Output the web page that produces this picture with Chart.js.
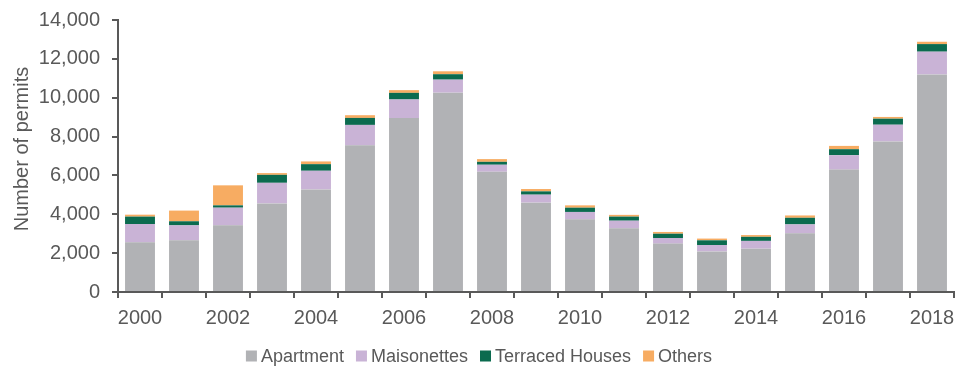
<!DOCTYPE html>
<html>
<head>
<meta charset="utf-8">
<script src="https://cdn.jsdelivr.net/npm/chart.js@4.4.1/dist/chart.umd.min.js"></script>
<style>
  html, body { margin: 0; padding: 0; background: #fff; }
  #wrap { width: 958px; height: 371px; }
</style>
</head>
<body>
<div id="wrap"><canvas id="permitsChart"></canvas></div>
<script>
// Building permits by dwelling type, 2000-2018
const years = ['2000', '2001', '2002', '2003', '2004', '2005', '2006', '2007', '2008', '2009',
               '2010', '2011', '2012', '2013', '2014', '2015', '2016', '2017', '2018'];
const apartment = [2560, 2660, 3430, 4560, 5280, 7550, 8950, 10260, 6190, 4600,
                   3740, 3280, 2490, 2090, 2230, 3020, 6300, 7750, 11200];
const maisonettes = [940, 770, 910, 1060, 960, 1050, 960, 670, 360, 410,
                     380, 390, 290, 330, 400, 460, 740, 860, 1170];
const terraced = [380, 210, 120, 410, 340, 360, 340, 280, 150, 170,
                  220, 210, 220, 240, 210, 340, 310, 310, 390];
const others = [100, 550, 1030, 90, 140, 140, 140, 150, 140, 120,
                120, 90, 90, 90, 90, 120, 170, 90, 120];
const yTicks = [0, 2000, 4000, 6000, 8000, 10000, 12000, 14000];
const yTitle = 'Number of permits';

const axisColor = '#595959';
const textColor = '#595959';
const fontFamily = "'Liberation Sans', Arial, sans-serif";

function series(label, data, color) {
    return {
        label: label,
        data: data,
        backgroundColor: color,
        borderWidth: 0,
        barPercentage: 0.68,
        categoryPercentage: 1.0
    };
}

// compact legend row under the plot plus the rotated y title
const extras = {
    id: 'extras',
    afterDraw(chart) {
        const c = chart.ctx;
        const box = 11, gap = 4, spacing = 12;
        c.save();
        c.font = '18px ' + fontFamily;
        c.textBaseline = 'middle';
        const items = chart.data.datasets.map(ds => ({
            text: ds.label, color: ds.backgroundColor, w: c.measureText(ds.label).width
        }));
        const total = items.reduce((s, it) => s + box + gap + it.w, 0) + spacing * (items.length - 1);
        let x = (chart.width - total) / 2;
        const y = 356;
        items.forEach(it => {
            c.fillStyle = it.color;
            c.fillRect(x, y - box / 2, box, box);
            c.fillStyle = textColor;
            c.fillText(it.text, x + box + gap, y + 1);
            x += box + gap + it.w + spacing;
        });

        c.font = '20px ' + fontFamily;
        c.textAlign = 'center';
        c.translate(22, 149);
        c.rotate(-Math.PI / 2);
        c.fillText(yTitle, 0, 0);
        c.restore();
    }
};

// keep the plot box fixed: no extra room for overhanging tick labels
function noLabelPadding(s) {
    s.paddingLeft = 0;
    s.paddingRight = 0;
    s.paddingTop = 0;
    s.paddingBottom = 0;
}

const ctx = document.getElementById('permitsChart').getContext('2d');
new Chart(ctx, {
    type: 'bar',
    data: {
        labels: years,
        datasets: [
            series('Apartment', apartment, '#b1b2b5'),
            series('Maisonettes', maisonettes, '#c9b3d6'),
            series('Terraced Houses', terraced, '#0b6b4f'),
            series('Others', others, '#f7ac62')
        ]
    },
    plugins: [extras],
    options: {
        responsive: true,
        maintainAspectRatio: false,
        animation: false,
        layout: { padding: { top: 20, right: 4, bottom: 43, left: 0 } },
        plugins: {
            tooltip: { enabled: false },
            legend: { display: false }
        },
        scales: {
            x: {
                stacked: true,
                afterFit: s => { s.height = 36; noLabelPadding(s); },
                border: { color: axisColor, width: 2 },
                grid: {
                    offset: true,
                    drawOnChartArea: false,
                    color: axisColor,
                    lineWidth: 2,
                    tickLength: 6
                },
                ticks: {
                    autoSkip: false,
                    maxRotation: 0,
                    color: textColor,
                    font: { family: fontFamily, size: 20 },
                    padding: 8,
                    callback: function (value, index) {
                        return index % 2 === 0 ? years[index] : '';
                    }
                }
            },
            y: {
                stacked: true,
                min: yTicks[0],
                max: yTicks[yTicks.length - 1],
                afterFit: s => { s.width = 118; noLabelPadding(s); },
                afterBuildTicks: s => { s.ticks = yTicks.map(v => ({ value: v })); },
                border: { color: axisColor, width: 2 },
                grid: {
                    drawOnChartArea: false,
                    color: axisColor,
                    lineWidth: 2,
                    tickLength: 6
                },
                ticks: {
                    color: textColor,
                    font: { family: fontFamily, size: 20 },
                    padding: 12,
                    callback: v => v.toLocaleString('en-US')
                }
            }
        }
    }
});
</script>
</body>
</html>
